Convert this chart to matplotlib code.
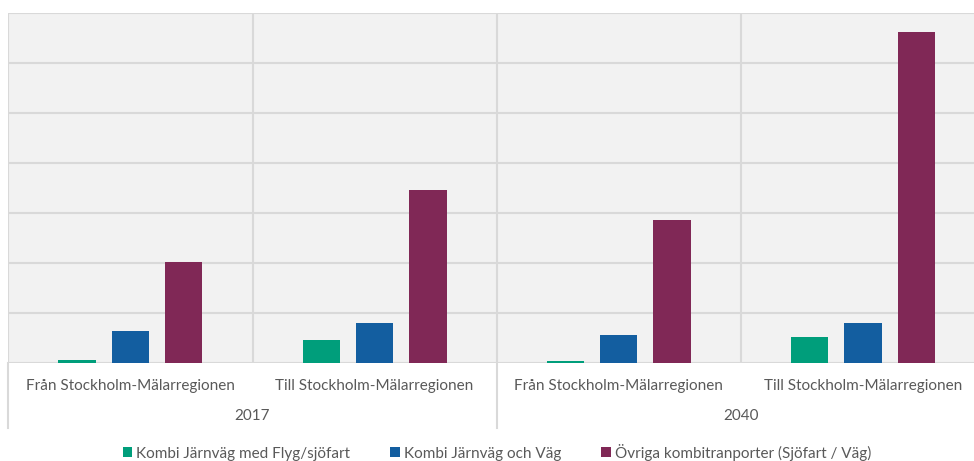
import matplotlib
matplotlib.use("Agg")
import matplotlib.pyplot as plt
from matplotlib.patches import Patch
from matplotlib.lines import Line2D
import matplotlib.transforms as mtransforms
import numpy as np

plt.rcParams['font.family'] = ['Lato', 'DejaVu Sans']

categories = ["Från Stockholm-Mälarregionen", "Till Stockholm-Mälarregionen",
              "Från Stockholm-Mälarregionen", "Till Stockholm-Mälarregionen"]
years = ["2017", "2040"]
series_names = ["Kombi Järnväg med Flyg/sjöfart", "Kombi Järnväg och Väg",
                "Övriga kombitranporter (Sjöfart / Väg)"]
kombi_flyg = [0.05, 0.45, 0.03, 0.51]
kombi_vag = [0.63, 0.79, 0.55, 0.79]
ovriga = [2.01, 3.46, 2.85, 6.61]
colors = ["#009e7b", "#135ea0", "#802856"]

W, H = 974, 461
fig = plt.figure(figsize=(W / 100, H / 100), dpi=100)
x0, x1 = 8.3, 985.1
y_top, y_bot = 12.7, 362.7
ax = fig.add_axes([x0 / W, 1 - y_bot / H, (x1 - x0) / W, (y_bot - y_top) / H])
ax.set_facecolor("#f2f2f2")
ax.set_xlim(-0.5, 3.5)
ax.set_ylim(0, 7)

x = np.arange(len(categories))
spacing = 0.218
width = 0.153
for i, (vals, c) in enumerate(zip([kombi_flyg, kombi_vag, ovriga], colors)):
    ax.bar(x + (i - 1) * spacing, vals, width, color=c, zorder=3,
           label=series_names[i])

grid_c = "#d9d9d9"
ax.set_yticks(np.arange(0, 8, 1))
ax.yaxis.grid(True, color=grid_c, linewidth=1.5, zorder=1)
ax.tick_params(axis='y', length=0, labelleft=False)
for xv in [0.5, 1.5, 2.5]:
    ax.axvline(xv, color=grid_c, linewidth=1.5, zorder=1)
for s in ax.spines.values():
    s.set_visible(False)
ax.axvline(-0.5, color=grid_c, linewidth=1.5, zorder=1)
ax.set_axisbelow(True)

ax.set_xticks(x)
ax.set_xticklabels(categories, fontsize=11, color="#595959")
ax.tick_params(axis='x', length=0, pad=12)

trans = mtransforms.blended_transform_factory(ax.transData, fig.transFigure)
for xv in [-0.5, 1.5]:
    fig.add_artist(Line2D([xv, xv], [1 - y_bot / H, 1 - 428 / H], transform=trans,
                          color=grid_c, linewidth=1.5))
for yi, yr in enumerate(years):
    fig.text(0.5 + 2 * yi, 1 - 416 / H, yr, transform=trans, ha='center', va='center',
             fontsize=11, color="#595959")

handles = [Patch(facecolor=c, edgecolor='none') for c in colors]
fig.legend(handles, series_names, loc='center', bbox_to_anchor=(0.51, 1 - 452 / H),
           ncol=3, frameon=False, fontsize=11, handlelength=0.65, handleheight=0.65,
           handletextpad=0.25, columnspacing=2.6, labelcolor="#595959")

fig.savefig("out.png", dpi=100)
